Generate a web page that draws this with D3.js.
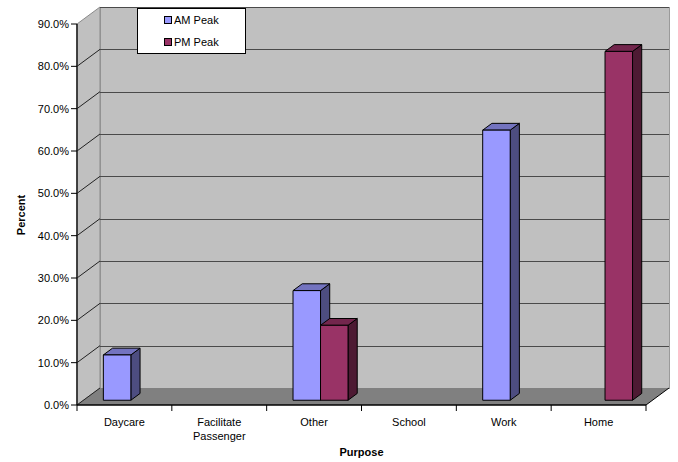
<!DOCTYPE html>
<html>
<head>
<meta charset="utf-8">
<script src="https://cdn.jsdelivr.net/npm/d3@7"></script>
<style>
  html, body { margin: 0; padding: 0; background: #fff; }
  svg { display: block; font-family: "Liberation Sans", Arial, sans-serif; }
</style>
</head>
<body>
<svg id="chart" width="678" height="462"></svg>
<script>
// Trip purpose shares by peak period
const categories = ["Daycare", "Facilitate\nPassenger", "Other", "School", "Work", "Home"];
const seriesNames = ["AM Peak", "PM Peak"];
const amPeak = [0.107, 0, 0.259, 0, 0.638, 0];
const pmPeak = [0, 0, 0.177, 0, 0, 0.824];
const yTicks = [0, 0.1, 0.2, 0.3, 0.4, 0.5, 0.6, 0.7, 0.8, 0.9];

const palette = {
  "AM Peak": { front: "#9999ff", top: "#7373bf", side: "#4d4d80" },
  "PM Peak": { front: "#993366", top: "#73264d", side: "#4d1a33" }
};

const svg = d3.select("#chart");

// plot frame (front plane) and 3-D depth offset
const plotLeft = 77, plotRight = 646, plotBottom = 405, plotTop = 24;
const depth = { dx: 23, dy: -17 };
const barFront = 0.28, barDepth = 0.40;

const y = d3.scaleLinear().domain([0, 0.9]).range([plotBottom, plotTop]);
const x = d3.scaleBand().domain(categories).range([plotLeft, plotRight]).paddingInner(0).paddingOuter(0);
const groupWidth = 55;
const xs = d3.scaleBand().domain(seriesNames).range([0, groupWidth]);

// back wall
svg.append("rect")
  .attr("x", plotLeft + depth.dx + 0.5).attr("y", plotTop + depth.dy + 0.5)
  .attr("width", plotRight - plotLeft).attr("height", plotBottom - plotTop)
  .attr("fill", "#c0c0c0").attr("stroke", "#9a9a9a").attr("stroke-width", 1);

// side wall
svg.append("polygon")
  .attr("points", [[plotLeft, plotBottom], [plotLeft, plotTop], [plotLeft + depth.dx, plotTop + depth.dy], [plotLeft + depth.dx, plotBottom + depth.dy]].join(" "))
  .attr("fill", "#c0c0c0").attr("stroke", "#8a8a8a").attr("stroke-width", 1);

// floor
svg.append("polygon")
  .attr("points", [[plotLeft, plotBottom], [plotRight, plotBottom], [plotRight + depth.dx, plotBottom + depth.dy], [plotLeft + depth.dx, plotBottom + depth.dy]].join(" "))
  .attr("fill", "#808080");

// gridlines on back wall plus diagonals on the side wall
const grid = svg.append("g");
yTicks.filter(t => t > 0).forEach(t => {
  const yy = Math.round(y(t) + depth.dy) + 0.5;
  grid.append("line")
    .attr("x1", plotLeft + depth.dx).attr("x2", plotRight + depth.dx)
    .attr("y1", yy).attr("y2", yy)
    .attr("stroke", "#4a4a4a").attr("stroke-width", 1);
});
yTicks.filter(t => t < 0.9).forEach(t => {
  grid.append("line")
    .attr("x1", plotLeft).attr("y1", y(t))
    .attr("x2", plotLeft + depth.dx).attr("y2", y(t) + depth.dy)
    .attr("stroke", "#222").attr("stroke-width", 1);
});

// bars
const fdx = depth.dx * barFront, fdy = depth.dy * barFront;
const bdx = depth.dx * barDepth, bdy = depth.dy * barDepth;
const barData = [];
categories.forEach((c, i) => {
  [amPeak[i], pmPeak[i]].forEach((v, j) => {
    if (v > 0) barData.push({ cat: c, series: seriesNames[j], value: v });
  });
});

const bars = svg.append("g");
barData.forEach(d => {
  const x0 = x(d.cat) + x.bandwidth() / 2 - groupWidth / 2 + xs(d.series) + fdx;
  const w = xs.bandwidth();
  const yb = y(0) + fdy, yt = y(d.value) + fdy;
  const col = palette[d.series];
  const g = bars.append("g").attr("stroke", "#000").attr("stroke-width", 1).attr("stroke-linejoin", "round");
  g.append("polygon")
    .attr("points", [[x0 + w, yt], [x0 + w + bdx, yt + bdy], [x0 + w + bdx, yb + bdy], [x0 + w, yb]].join(" "))
    .attr("fill", col.side);
  g.append("polygon")
    .attr("points", [[x0, yt], [x0 + w, yt], [x0 + w + bdx, yt + bdy], [x0 + bdx, yt + bdy]].join(" "))
    .attr("fill", col.top);
  g.append("rect")
    .attr("x", x0).attr("y", yt).attr("width", w).attr("height", yb - yt)
    .attr("fill", col.front);
});

// y axis
const yAxis = svg.append("g");
yAxis.append("line")
  .attr("x1", plotLeft).attr("x2", plotLeft).attr("y1", plotTop).attr("y2", plotBottom)
  .attr("stroke", "#222").attr("stroke-width", 1.6);
yTicks.forEach(t => {
  yAxis.append("line")
    .attr("x1", plotLeft - 6).attr("x2", plotLeft).attr("y1", y(t)).attr("y2", y(t))
    .attr("stroke", "#000").attr("stroke-width", 1);
  yAxis.append("text")
    .attr("x", plotLeft - 8).attr("y", y(t) + 4)
    .attr("text-anchor", "end").attr("font-size", 11).attr("fill", "#000")
    .text(d3.format(".1%")(t));
});

// x axis
const xAxis = svg.append("g");
xAxis.append("line")
  .attr("x1", plotLeft).attr("x2", plotRight).attr("y1", plotBottom).attr("y2", plotBottom)
  .attr("stroke", "#000").attr("stroke-width", 1.5);
xAxis.append("line")
  .attr("x1", plotRight).attr("y1", plotBottom)
  .attr("x2", plotRight + depth.dx).attr("y2", plotBottom + depth.dy)
  .attr("stroke", "#000").attr("stroke-width", 1);
categories.forEach(c => {
  const xl = x(c);
  xAxis.append("line")
    .attr("x1", xl).attr("x2", xl).attr("y1", plotBottom).attr("y2", plotBottom + 6)
    .attr("stroke", "#000");
  const lines = c.split("\n");
  const t = xAxis.append("text")
    .attr("x", xl + x.bandwidth() / 2).attr("y", 426)
    .attr("text-anchor", "middle").attr("font-size", 11).attr("fill", "#000");
  lines.forEach((ln, k) => {
    t.append("tspan").attr("x", xl + x.bandwidth() / 2).attr("dy", k === 0 ? 0 : 14).text(ln);
  });
});
xAxis.append("line")
  .attr("x1", plotRight).attr("x2", plotRight).attr("y1", plotBottom).attr("y2", plotBottom + 6)
  .attr("stroke", "#000");

// axis titles
svg.append("text")
  .attr("x", (plotLeft + plotRight) / 2).attr("y", 456)
  .attr("text-anchor", "middle").attr("font-size", 11).attr("font-weight", "bold")
  .text("Purpose");
svg.append("text")
  .attr("transform", "translate(25,215) rotate(-90)")
  .attr("text-anchor", "middle").attr("font-size", 11).attr("font-weight", "bold")
  .text("Percent");

// legend
const legend = svg.append("g");
legend.append("rect")
  .attr("x", 137.5).attr("y", 8.5).attr("width", 108).attr("height", 45)
  .attr("fill", "#fff").attr("stroke", "#000").attr("stroke-width", 1);
seriesNames.forEach((s, i) => {
  const cy = 20 + i * 22;
  legend.append("rect")
    .attr("x", 164.5).attr("y", cy - 3.5).attr("width", 7).attr("height", 7)
    .attr("fill", palette[s].front).attr("stroke", "#000").attr("stroke-width", 1);
  legend.append("text")
    .attr("x", 174).attr("y", cy + 4)
    .attr("font-size", 11).attr("fill", "#000")
    .text(s);
});
</script>
</body>
</html>
